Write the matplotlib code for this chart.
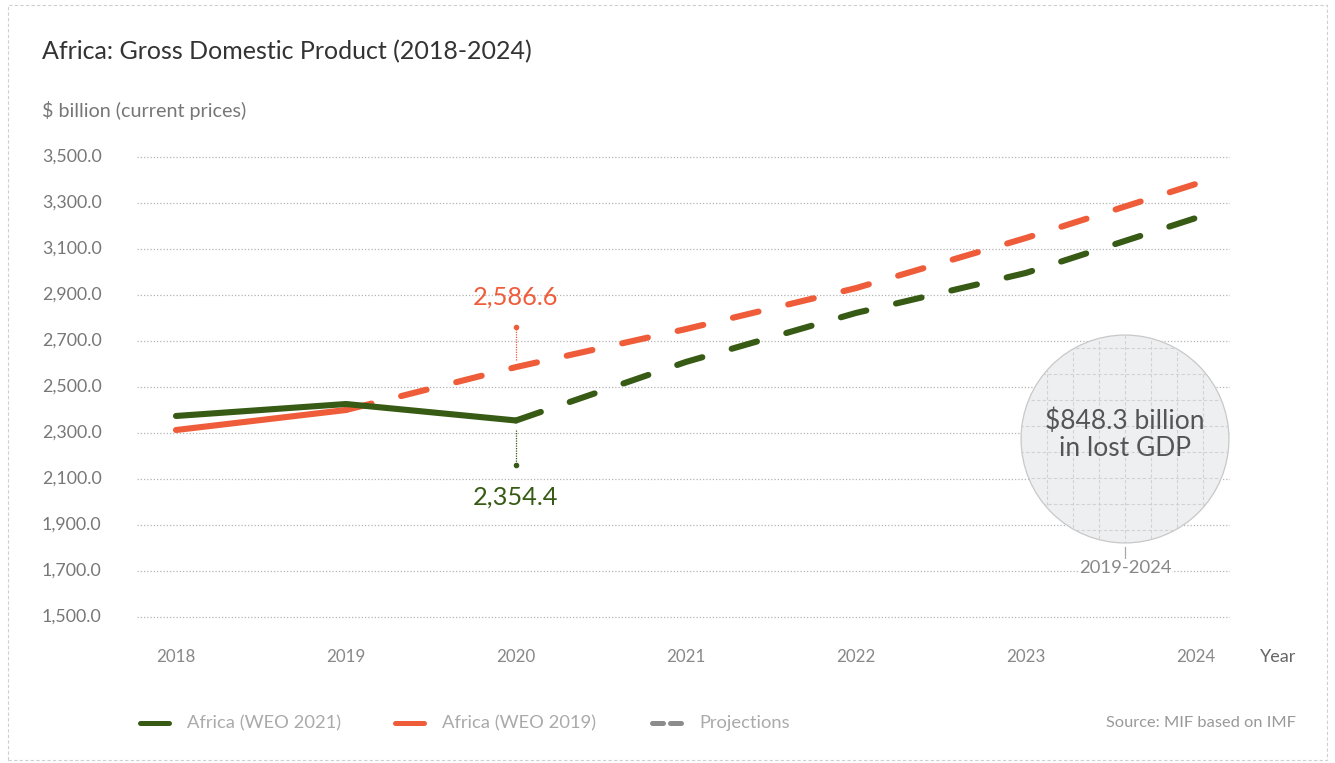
import numpy as np
import matplotlib.pyplot as plt
import matplotlib.transforms as mtransforms
from matplotlib.patches import Circle, Rectangle
from matplotlib.lines import Line2D

plt.rcParams['font.family'] = ['Lato', 'DejaVu Sans']

# GDP, $ billion (current prices)
years = [2018, 2019, 2020, 2021, 2022, 2023, 2024]
weo2021 = [2374, 2426, 2354.4, 2609, 2822, 2996, 3235]
weo2019 = [2313, 2400, 2586.6, 2752, 2930, 3148, 3383]
first_proj_2021 = 2020   # projections start here for WEO 2021
first_proj_2019 = 2019   # and here for WEO 2019
yticks = [1500, 1700, 1900, 2100, 2300, 2500, 2700, 2900, 3100, 3300, 3500]
lost_gdp = 848.3

GREEN = '#375b14'
ORANGE = '#ef5c3a'
GREY = '#8c8c8c'
DARK = '#333333'

W, H = 1335, 763
fig = plt.figure(figsize=(W / 100, H / 100), dpi=100)

def px(x, y, w, h):
    # pixel box (from top-left) -> figure fraction
    return [x / W, 1 - (y + h) / H, w / W, h / H]

ax = fig.add_axes(px(137, 150, 1093, 475))
ax.set_xlim(2018 - 39 / 170, 2024 + 34 / 170)
ax.set_ylim(1500 - 8 * 200 / 46, 3500 + 7 * 200 / 46)
for s in ax.spines.values():
    s.set_visible(False)
ax.set_xticks([])
ax.set_yticks([])

for v in yticks:
    ax.axhline(v, color='#b5b5b5', lw=0.9, ls=(0, (1, 1.6)), zorder=1)

lw = 4.4
dash = (0, (4.3, 5.0))

def draw_series(vals, start, color):
    i = years.index(start)
    ax.plot(years[:i + 1], vals[:i + 1], color=color, lw=lw,
            solid_capstyle='round', solid_joinstyle='round', zorder=4)
    ax.plot(years[i:], vals[i:], color=color, lw=lw, ls=dash,
            dash_capstyle='round', zorder=3)

draw_series(weo2019, first_proj_2019, ORANGE)
draw_series(weo2021, first_proj_2021, GREEN)

# value callouts at 2020
v19 = weo2019[years.index(2020)]
v21 = weo2021[years.index(2020)]
ax.plot([2020, 2020], [v19 + 30, v19 + 175], color=ORANGE, lw=0.9, ls=(0, (1, 1)))
ax.plot(2020, v19 + 175, 'o', color=ORANGE, ms=3)
ax.text(2020, v19 + 305, f'{v19:,.1f}', color=ORANGE, fontsize=18.3,
        ha='center', va='center')
ax.plot([2020, 2020], [v21 - 40, v21 - 195], color=GREEN, lw=0.9, ls=(0, (1, 1)))
ax.plot(2020, v21 - 195, 'o', color=GREEN, ms=3)
ax.text(2020, v21 - 335, f'{v21:,.1f}', color=GREEN, fontsize=18.3,
        ha='center', va='center')

# y tick labels, left aligned
trans = mtransforms.blended_transform_factory(fig.transFigure, ax.transData)
for v in yticks:
    ax.text(42 / W, v, f'{v:,.1f}', transform=trans, ha='left', va='center',
            fontsize=12.8, color='#777777')

# x tick labels
xtrans = mtransforms.blended_transform_factory(ax.transData, fig.transFigure)
for yr in years:
    ax.text(yr, 1 - 657 / H, str(yr), transform=xtrans, ha='center',
            va='center', fontsize=12.2, color='#888888')
fig.text(1278 / W, 1 - 657 / H, 'Year', ha='center', va='center',
         fontsize=13, color='#666666')

# lost GDP bubble
cax = fig.add_axes(px(1020, 334, 210, 210))
cax.set_xlim(-1, 1)
cax.set_ylim(-1, 1)
cax.axis('off')
circ = Circle((0, 0), 0.99, facecolor='#eeeff1', edgecolor='#c8c8c8', lw=0.9, zorder=1)
cax.add_patch(circ)
step = 26 / 105
for k in range(-4, 5):
    l1, = cax.plot([k * step, k * step], [-1, 1], color='#d2d2d2', lw=0.8,
                   ls=(0, (3, 2)), zorder=2)
    l1.set_clip_path(circ)
    l2, = cax.plot([-1, 1], [(k + 0.5) * step] * 2, color='#d2d2d2', lw=0.8,
                   ls=(0, (3, 2)), zorder=2)
    l2.set_clip_path(circ)
cax.text(0, 0.04, f'${lost_gdp} billion\nin lost GDP', ha='center', va='center',
         fontsize=19, color='#555555', linespacing=1.1, zorder=3)

fig.add_artist(Line2D([1125 / W, 1125 / W], [1 - 547 / H, 1 - 558 / H],
                      color='#aaaaaa', lw=0.9))
fig.text(1125 / W, 1 - 568 / H, '2019-2024', ha='center', va='center',
         fontsize=13.3, color='#888888',
         bbox=dict(facecolor='white', edgecolor='none', pad=0.5))

# titles
fig.text(42 / W, 1 - 52 / H, 'Africa: Gross Domestic Product (2018-2024)',
         ha='left', va='center', fontsize=18, color=DARK)
fig.text(42 / W, 1 - 110 / H, '$ billion (current prices)', ha='left',
         va='center', fontsize=14.2, color='#777777')

# legend
ly = 1 - 723 / H
items = [(138, GREEN, '-', 'Africa (WEO 2021)'),
         (393, ORANGE, '-', 'Africa (WEO 2019)'),
         (650, GREY, (0, (2.2, 1.4)), 'Projections')]
for x0, c, ls, label in items:
    fig.add_artist(Line2D([(x0 + 2) / W, (x0 + 31) / W], [ly, ly], color=c, lw=3.6,
                          ls=ls, solid_capstyle='round', dash_capstyle='round'))
    fig.text((x0 + 49) / W, ly, label, ha='left', va='center', fontsize=13.2,
             color='#aaaaaa')
fig.text(1296 / W, ly, 'Source: MIF based on IMF', ha='right', va='center',
         fontsize=11.8, color='#999999')

# dashed frame
fig.add_artist(Rectangle((8 / W, 3 / H), 1319 / W, 755 / H, fill=False,
                         edgecolor='#cfcfcf', lw=0.8, ls=(0, (3, 2)),
                         transform=fig.transFigure))

fig.savefig('out.png', dpi=100)
